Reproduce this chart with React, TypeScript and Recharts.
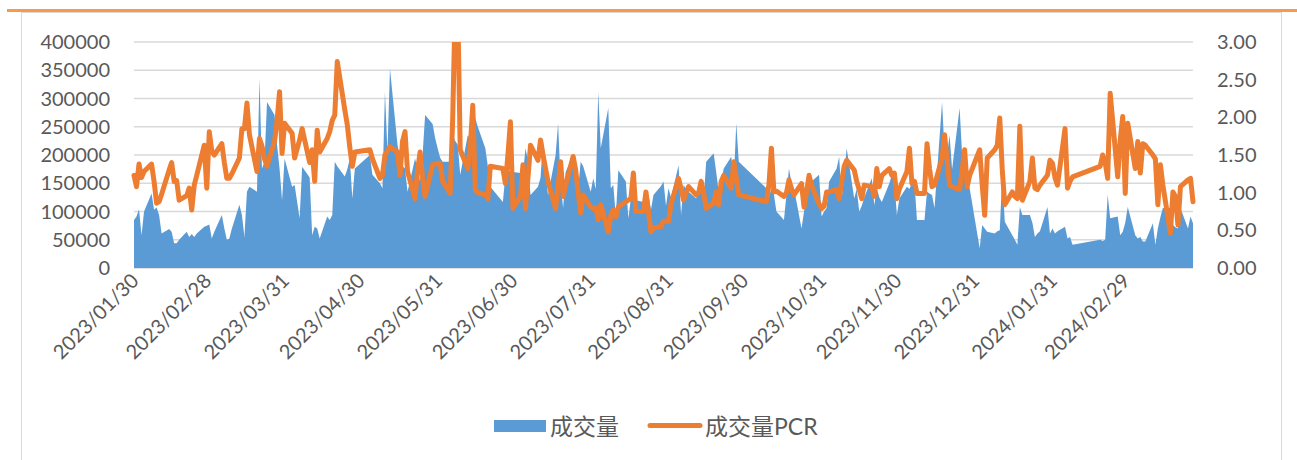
import { Area, CartesianGrid, ComposedChart, Line, XAxis, YAxis } from 'recharts'

const DAY_MS = 86400000
const START = Date.UTC(2023, 0, 30)
const END = Date.UTC(2024, 2, 27)

// exchange closed on these weekdays
const holidays = [
  '2023-04-05', '2023-05-01', '2023-05-02', '2023-05-03', '2023-06-22', '2023-06-23',
  '2023-09-29', '2023-10-02', '2023-10-03', '2023-10-04', '2023-10-05', '2023-10-06',
  '2024-01-01', '2024-02-09', '2024-02-12', '2024-02-13', '2024-02-14', '2024-02-15', '2024-02-16',
]

const tickLabels = [
  '2023/01/30', '2023/02/28', '2023/03/31', '2023/04/30', '2023/05/31', '2023/06/30', '2023/07/31',
  '2023/08/31', '2023/09/30', '2023/10/31', '2023/11/30', '2023/12/31', '2024/01/31', '2024/02/29',
]

// 成交量, one value per trading day, month by month
const vol2023Jan = [85000, 91000]
const vol2023Feb = [104000, 58000, 100000, 132000, 103000, 107000, 94000, 61000, 69000, 64000, 44000, 44000, 50000, 64000, 55000, 60000, 55000, 61000, 73000, 75000]
const vol2023Mar = [77000, 52000, 64000, 94000, 70000, 50000, 52000, 70000, 112000, 94000, 55000, 135000, 144000, 135000, 336000, 176000, 188000, 294000, 271000, 218000, 176000, 120000, 194000]
const vol2023Apr = [144000, 147000, 88000, 179000, 160000, 58000, 73000, 70000, 52000, 91000, 85000, 94000, 188000, 180000, 162000, 175000, 194000, 123000, 176000]
const vol2023May = [200000, 165000, 150000, 141000, 312000, 206000, 353000, 218000, 195000, 180000, 176000, 135000, 194000, 176000, 153000, 200000, 271000, 255000, 230000, 212000]
const vol2023Jun = [195000, 188000, 188000, 235000, 225000, 218000, 165000, 235000, 229000, 245000, 265000, 250000, 212000, 180000, 144000, 117000, 165000, 170000, 172000, 170000]
const vol2023Jul = [168000, 165000, 212000, 190000, 129000, 144000, 160000, 224000, 170000, 129000, 200000, 256000, 150000, 106000, 170000, 200000, 160000, 141000, 188000, 180000, 135000]
const vol2023Aug = [159000, 140000, 312000, 212000, 283000, 141000, 147000, 91000, 173000, 153000, 88000, 123000, 122000, 120000, 117000, 117000, 129000, 103000, 129000, 145000, 153000, 110000, 141000]
const vol2023Sep = [125000, 182000, 94000, 147000, 140000, 135000, 123000, 140000, 159000, 120000, 188000, 203000, 170000, 135000, 153000, 176000, 197000, 153000, 256000, 188000]
const vol2023Oct = [141000, 125000, 141000, 130000, 100000, 85000, 130000, 176000, 150000, 141000, 70000, 100000, 135000, 145000, 153000, 165000, 91000]
const vol2023Nov = [100000, 106000, 153000, 176000, 197000, 123000, 165000, 212000, 123000, 140000, 100000, 110000, 125000, 159000, 111000, 141000, 125000, 117000, 150000, 165000, 153000, 94000]
const vol2023Dec = [123000, 144000, 140000, 150000, 153000, 85000, 85000, 135000, 132000, 129000, 106000, 294000, 206000, 200000, 235000, 175000, 283000, 200000, 165000, 150000, 141000]
const vol2024Jan = [35000, 76000, 70000, 64000, 61000, 65000, 67000, 165000, 82000, 58000, 50000, 41000, 108000, 94000, 94000, 80000, 55000, 61000, 65000, 108000, 61000, 70000]
const vol2024Feb = [61000, 65000, 73000, 52000, 55000, 41000, 50000, 48000, 50000, 129000, 88000, 91000, 58000, 64000, 80000]
const vol2024Mar = [108000, 58000, 52000, 55000, 47000, 47000, 79000, 41000, 70000, 90000, 106000, 106000, 76000, 72000, 70000, 106000, 70000, 91000, 79000]

// 成交量PCR
const pcr2023Jan = [1.23, 1.08]
const pcr2023Feb = [1.38, 1.2, 1.28, 1.38, 1.15, 0.86, 0.88, 0.98, 1.3, 1.4, 1.15, 1.16, 0.9, 0.96, 1.06, 0.77, 1.1, 1.23, 1.63, 1.06]
const pcr2023Mar = [1.81, 1.55, 1.5, 1.65, 1.4, 1.19, 1.19, 1.25, 1.46, 1.85, 1.85, 2.19, 1.77, 1.28, 1.72, 1.62, 1.45, 1.35, 1.68, 1.95, 2.34, 1.52, 1.92]
const pcr2023Apr = [1.79, 1.46, 1.7, 1.85, 1.4, 1.57, 1.15, 1.83, 1.54, 1.72, 1.81, 1.96, 2.03, 2.74, 2.1, 1.9, 1.6, 1.35, 1.54]
const pcr2023May = [1.57, 1.45, 1.19, 1.23, 1.5, 1.55, 1.61, 1.54, 1.23, 1.68, 1.81, 1.28, 0.92, 1.3, 1.54, 1.2, 0.95, 1.37, 1.38, 1.39]
const pcr2023Jun = [1.39, 1.15, 0.99, 1.99, 3.5, 3.5, 1.57, 1.32, 1.6, 2.16, 1.04, 1.0, 0.97, 0.92, 1.35, 1.32, 1.12, 1.5, 1.94, 0.79]
const pcr2023Jul = [0.95, 1.37, 0.79, 1.2, 1.63, 1.43, 1.7, 1.5, 1.32, 1.15, 0.79, 1.1, 1.41, 0.95, 1.1, 1.48, 1.3, 1.0, 0.73, 0.97, 0.81]
const pcr2023Aug = [0.79, 0.8, 0.64, 0.84, 0.48, 0.7, 0.77, 0.68, 0.81, 0.88, 0.9, 0.92, 1.26, 0.75, 0.75, 1.01, 0.75, 0.48, 0.53, 0.55, 0.62, 0.62, 0.62]
const pcr2023Sep = [0.85, 1.19, 1.05, 0.9, 1.0, 1.08, 0.97, 1.0, 1.15, 1.0, 0.79, 0.86, 1.01, 0.84, 1.15, 1.23, 1.06, 1.41, 1.2, 0.97]
const pcr2023Oct = [0.88, 1.1, 1.59, 1.01, 1.02, 0.95, 1.0, 1.17, 1.05, 0.97, 1.12, 0.81, 1.0, 1.23, 1.1, 0.85, 0.79]
const pcr2023Nov = [0.82, 1.01, 1.01, 1.04, 0.92, 1.15, 1.35, 1.43, 1.3, 1.15, 1.04, 0.92, 1.1, 1.08, 0.95, 1.32, 1.08, 1.23, 1.32, 1.23, 1.26, 0.92]
const pcr2023Dec = [1.05, 1.28, 1.59, 1.12, 1.15, 0.99, 0.99, 1.65, 1.32, 1.08, 1.1, 1.46, 1.77, 1.45, 1.1, 1.08, 1.04, 1.3, 1.57, 1.08, 1.23]
const pcr2024Jan = [1.57, 1.1, 0.7, 1.46, 1.57, 1.63, 1.99, 1.3, 0.84, 1.01, 0.95, 0.92, 1.88, 0.9, 1.15, 1.46, 1.06, 1.04, 1.1, 1.23, 1.43, 1.39]
const pcr2024Feb = [1.2, 1.1, 1.85, 1.06, 1.15, 1.21, 1.35, 1.5, 1.4, 1.19, 2.32, 1.21, 1.7, 2.01, 0.99]
const pcr2024Mar = [1.92, 1.32, 1.68, 1.26, 1.65, 1.63, 1.5, 1.45, 0.84, 1.37, 1.1, 0.46, 1.01, 0.95, 0.57, 1.08, 1.17, 1.19, 0.88]

const volume = [
  ...vol2023Jan, ...vol2023Feb, ...vol2023Mar, ...vol2023Apr, ...vol2023May, ...vol2023Jun, ...vol2023Jul,
  ...vol2023Aug, ...vol2023Sep, ...vol2023Oct, ...vol2023Nov, ...vol2023Dec, ...vol2024Jan, ...vol2024Feb, ...vol2024Mar,
]
const pcr = [
  ...pcr2023Jan, ...pcr2023Feb, ...pcr2023Mar, ...pcr2023Apr, ...pcr2023May, ...pcr2023Jun, ...pcr2023Jul,
  ...pcr2023Aug, ...pcr2023Sep, ...pcr2023Oct, ...pcr2023Nov, ...pcr2023Dec, ...pcr2024Jan, ...pcr2024Feb, ...pcr2024Mar,
]

const isoDay = (t: number) => new Date(t).toISOString().slice(0, 10)
const toOffset = (label: string) => {
  const [y, m, d] = label.split('/').map(Number)
  return Math.round((Date.UTC(y, m - 1, d) - START) / DAY_MS)
}

const tradingDays: number[] = []
for (let t = START; t <= END; t += DAY_MS) {
  const wd = new Date(t).getUTCDay()
  if (wd === 0 || wd === 6 || holidays.includes(isoDay(t))) continue
  tradingDays.push(Math.round((t - START) / DAY_MS))
}

const data = tradingDays.map((day, i) => ({ day, vol: volume[i], pcr: pcr[i] }))
const tickDays = tickLabels.map(toOffset)
const lastDay = Math.round((END - START) / DAY_MS)

const FONT = 'Lato, "Noto Sans CJK SC", sans-serif'
const GREY = '#595959'

function DateTick({ x, payload }: { x?: number; y?: number; payload?: { value: number } }) {
  const i = tickDays.indexOf(payload?.value ?? -1)
  const ax = (x ?? 0) + 6
  const ay = 282
  return (
    <text x={ax} y={ay} transform={`rotate(-45 ${ax} ${ay})`} textAnchor="end" fill={GREY} fontSize={20} fontFamily={FONT}>
      {tickLabels[i]}
    </text>
  )
}

export default function App() {
  return (
    <div style={{ position: 'absolute', left: 0, top: 0, width: 1297, height: 460, background: '#fff' }}>
      <div style={{ position: 'absolute', left: 21, top: 12, width: 1259, height: 460, border: '1.5px solid #D9D9D9', borderBottom: 'none' }} />
      <div style={{ position: 'absolute', left: 7, top: 9, width: 1290, height: 3, background: '#F79A4E' }} />
      <div style={{ position: 'absolute', left: 0, top: 0 }}>
        <ComposedChart width={1297} height={460} data={data} margin={{ top: 42, right: 14, bottom: 72, left: 34 }}>
          <CartesianGrid yAxisId="left" vertical={false} stroke="#D9D9D9" strokeWidth={1.5} />
          <XAxis
            dataKey="day"
            type="number"
            domain={[0, lastDay]}
            ticks={tickDays}
            interval={0}
            height={120}
            tickLine={false}
            axisLine={false}
            tick={(props: any) => <DateTick {...props} />}
          />
          <YAxis
            yAxisId="left"
            width={100}
            domain={[0, 400000]}
            ticks={[0, 50000, 100000, 150000, 200000, 250000, 300000, 350000, 400000]}
            tickLine={false}
            axisLine={false}
            tickMargin={18}
            tick={{ fill: GREY, fontSize: 20, fontFamily: FONT }}
          />
          <YAxis
            yAxisId="right"
            orientation="right"
            width={90}
            domain={[0, 3]}
            allowDataOverflow
            ticks={[0, 0.5, 1, 1.5, 2, 2.5, 3]}
            tickFormatter={(v: number) => v.toFixed(2)}
            tickLine={false}
            axisLine={false}
            tickMargin={18}
            tick={{ fill: GREY, fontSize: 20, fontFamily: FONT, textAnchor: 'start' }}
          />
          <Area
            yAxisId="left"
            dataKey="vol"
            type="linear"
            fill="#5B9BD5"
            fillOpacity={1}
            stroke="none"
            isAnimationActive={false}
          />
          <Line
            yAxisId="right"
            dataKey="pcr"
            type="linear"
            stroke="#ED7D31"
            strokeWidth={5}
            strokeLinejoin="round"
            strokeLinecap="round"
            dot={false}
            activeDot={false}
            isAnimationActive={false}
          />
        </ComposedChart>
      </div>
      <svg style={{ position: 'absolute', left: 490, top: 412 }} width={340} height={32}>
        <rect x={4} y={8} width={52} height={12} fill="#5B9BD5" />
        <text x={60} y={23} fill={GREY} fontSize={23} fontFamily={FONT}>成交量</text>
        <line x1={160} y1={13.5} x2={210} y2={13.5} stroke="#ED7D31" strokeWidth={5} strokeLinecap="round" />
        <text x={215} y={23} fill={GREY} fontSize={23} fontFamily={FONT}>成交量PCR</text>
      </svg>
    </div>
  )
}
